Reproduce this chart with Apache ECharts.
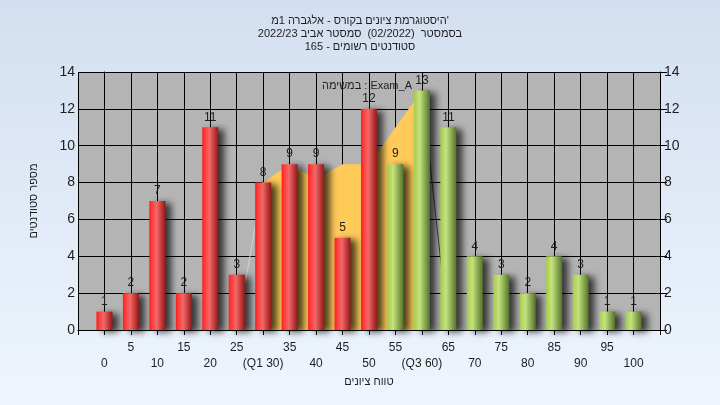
<!DOCTYPE html>
<html><head><meta charset="utf-8">
<script src="https://cdn.jsdelivr.net/npm/echarts@6/dist/echarts.min.js"></script>
<style>html,body{margin:0;padding:0;background:#e2ebf7;}#c{width:720px;height:405px;}</style>
</head><body><div id="c"></div>
<script>
const categories = [0,5,10,15,20,25,30,35,40,45,50,55,60,65,70,75,80,85,90,95,100];
const counts = [1,2,7,2,11,3,8,9,9,5,12,9,13,11,4,3,2,4,3,1,1];
const tickLabels = ['0','5','10','15','20','25','(Q1 30)','35','40','45','50','55','(Q3 60)','65','70','75','80','85','90','95','100'];
const bandX = [30,35,40,45,50,60];
const bandY = [8,9,8.2,9,9,13];
const edgeLeftX = [25,30], edgeLeftY = [0,8];
const edgeRightX = [60,65], edgeRightY = [13,0];
const titleLines = ["היסטוגרמת ציונים בקורס - אלגברה 1מ'", "בסמסטר  (02/2022)  סמסטר אביב 2022/23", "סטודנטים רשומים - 165"];
const yAxisTitle = 'מספר סטודנטים';
const xAxisTitle = 'טווח ציונים';
const seriesNote = 'במשימה : Exam_A';

const FONT = '"Liberation Sans", "DejaVu Sans", Arial, sans-serif';
const zip = (a,b) => a.map((v,i)=>[v,b[i]]);
const redGrad = {type:'linear',x:0,y:0,x2:1,y2:0,colorStops:[
  {offset:0,color:'#ff1c1c'},{offset:0.15,color:'#ff3a3a'},{offset:0.45,color:'#f06a6a'},{offset:0.75,color:'#c43a3a'},{offset:1,color:'#8e1a1a'}]};
const greenGrad = {type:'linear',x:0,y:0,x2:1,y2:0,colorStops:[
  {offset:0,color:'#a4cc4c'},{offset:0.35,color:'#c6e27e'},{offset:0.7,color:'#88a850'},{offset:1,color:'#56702e'}]};

const chart = echarts.init(document.getElementById('c'), null, {renderer:'canvas'});
chart.setOption({
  animation:false,
  backgroundColor:{type:'linear',x:0,y:0,x2:0,y2:1,colorStops:[{offset:0,color:'#d3dff0'},{offset:1,color:'#eef5fd'}]},
  textStyle:{fontFamily:FONT},
  title:{text:titleLines.join('\n'),left:'center',top:9,
    textStyle:{fontSize:11,fontWeight:'normal',color:'#1e1e1e',lineHeight:13,fontFamily:FONT}},
  graphic:[{type:'text',x:367,y:80,style:{text:seriesNote,fill:'#1e1e1e',font:'11px '+FONT,textAlign:'center',textVerticalAlign:'top'},z:100}],
  grid:{left:78,right:60,top:72,bottom:75,show:true,backgroundColor:'#b4b4b4',borderWidth:0,containLabel:false,outerBoundsMode:'none'},
  xAxis:{type:'value',min:-5,max:105,interval:5,
    name:xAxisTitle,nameLocation:'middle',nameGap:44,nameTextStyle:{fontSize:11,color:'#1e1e1e',fontFamily:FONT},
    axisLine:{show:true,onZero:false,lineStyle:{color:'#000',width:1}},
    axisTick:{show:true,length:5,lineStyle:{color:'#000'}},
    splitLine:{show:true,lineStyle:{color:'#000',width:1}},
    axisLabel:{margin:10,fontSize:12,color:'#1e1e1e',lineHeight:16,showMinLabel:true,showMaxLabel:true,hideOverlap:false,
      formatter:v=>{const i=categories.indexOf(Math.round(v)); if(i<0) return ''; return (categories[i]%10===0?'\n':'')+tickLabels[i];}}},
  yAxis:[
    {type:'value',min:0,max:14,interval:2,position:'left',
      name:yAxisTitle,nameLocation:'middle',nameRotate:90,nameGap:39,nameTextStyle:{fontSize:11,color:'#1e1e1e',fontFamily:FONT},
      axisLine:{show:true,lineStyle:{color:'#000',width:1}},
      axisTick:{show:true,length:9,lineStyle:{color:'#000'}},
      axisLabel:{margin:3,fontSize:14,color:'#1e1e1e'},
      splitLine:{show:true,lineStyle:{color:'#000',width:1}}},
    {type:'value',min:0,max:14,interval:2,position:'right',
      axisLine:{show:true,lineStyle:{color:'#000',width:1}},
      axisTick:{show:true,length:7,lineStyle:{color:'#000'}},
      axisLabel:{margin:4,fontSize:14,color:'#1e1e1e'},
      splitLine:{show:false}}
  ],
  series:[
    {type:'line',data:zip(edgeLeftX,edgeLeftY),symbol:'none',lineStyle:{color:'#d2d2d2',width:1},z:1,silent:true},
    {type:'line',data:zip(edgeRightX,edgeRightY),symbol:'none',lineStyle:{color:'#3c3c3c',width:1},z:1,silent:true},
    {type:'line',data:zip(bandX,bandY),symbol:'none',lineStyle:{width:0},areaStyle:{color:'#ffca58',opacity:1},z:1,silent:true},
    {type:'bar',barWidth:16,z:3,
      data:categories.map((c,i)=>({value:[c,counts[i]],itemStyle:{color:c<=50?redGrad:greenGrad}})),
      itemStyle:{shadowColor:'rgba(0,0,0,0.7)',shadowBlur:7,shadowOffsetX:6,shadowOffsetY:2},
      label:{show:true,position:'top',distance:4,fontSize:12,color:'#1e1e1e',fontFamily:FONT,formatter:p=>p.value[1]}}
  ]
});
</script></body></html>
